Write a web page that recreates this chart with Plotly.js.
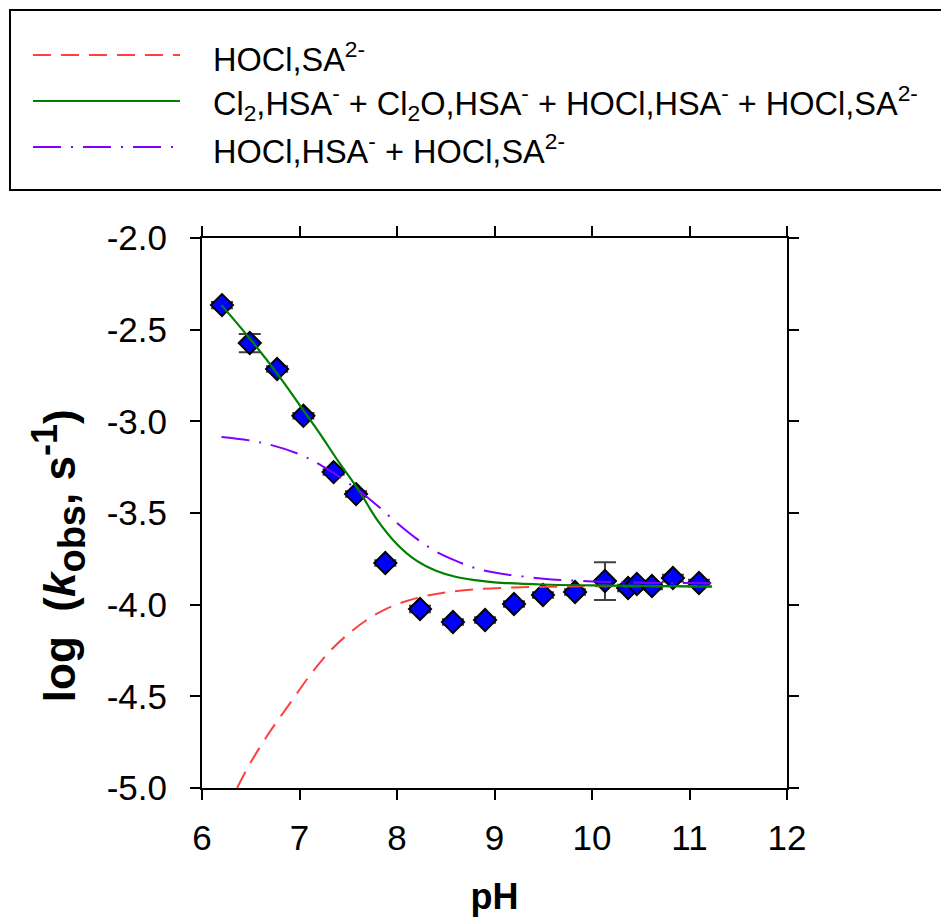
<!DOCTYPE html>
<html>
<head>
<meta charset="utf-8">
<script src="https://cdn.plot.ly/plotly-3.0.1.min.js"></script>
<style>body{margin:0;padding:0;background:#fff}#chart{width:941px;height:917px}</style>
</head>
<body>
<div id="chart"></div>
<script>
// Measured data points
var pH = [6.205, 6.49, 6.77, 7.04, 7.35, 7.58, 7.88, 8.236, 8.574, 8.903, 9.2, 9.497, 9.826, 10.133, 10.37, 10.46, 10.615, 10.83, 11.097];
var logK = [-2.366, -2.573, -2.715, -2.97, -3.277, -3.397, -3.773, -4.024, -4.095, -4.084, -3.996, -3.947, -3.931, -3.871, -3.909, -3.887, -3.898, -3.855, -3.882];
var logKErr = [0.017, 0.05, 0.015, 0.015, 0.015, 0.015, 0.015, 0.018, 0.015, 0.015, 0.015, 0.015, 0.015, 0.103, 0.018, 0.018, 0.018, 0.018, 0.018];

// Model curves
var redPH = [6.36, 6.5, 6.7, 6.9, 7.1, 7.3, 7.5, 7.7, 7.9, 8.1, 8.3, 8.5, 8.8, 9.2, 9.6, 10, 11.23];
var redLogK = [-5.0, -4.86, -4.69, -4.54, -4.39, -4.26, -4.16, -4.08, -4.02, -3.98, -3.952, -3.933, -3.916, -3.906, -3.902, -3.9, -3.9];

var greenPH = [6.2, 6.5, 6.8, 7.0, 7.2, 7.4, 7.6, 7.8, 8.0, 8.2, 8.4, 8.6, 8.8, 9.0, 9.5, 10, 10.5, 11.23];
var greenLogK = [-2.366, -2.555, -2.76, -2.91, -3.06, -3.22, -3.37, -3.54, -3.67, -3.76, -3.815, -3.848, -3.866, -3.878, -3.89, -3.895, -3.898, -3.902];

var purplePH = [6.2, 6.6, 7.0, 7.3, 7.6, 7.8, 8.0, 8.2, 8.4, 8.6, 8.8, 9.0, 9.5, 10, 10.5, 11.23];
var purpleLogK = [-3.085, -3.115, -3.18, -3.265, -3.375, -3.46, -3.555, -3.64, -3.71, -3.76, -3.80, -3.825, -3.858, -3.873, -3.88, -3.883];

var seriesNames = [
  'HOCl,SA<sup>2-</sup>',
  'Cl<sub>2</sub>,HSA<sup>-</sup> + Cl<sub>2</sub>O,HSA<sup>-</sup> + HOCl,HSA<sup>-</sup> + HOCl,SA<sup>2-</sup>',
  'HOCl,HSA<sup>-</sup> + HOCl,SA<sup>2-</sup>'
];
var xTickVals = [6, 7, 8, 9, 10, 11, 12];
var xTickText = ['6', '7', '8', '9', '10', '11', '12'];
var yTickVals = [-5.0, -4.5, -4.0, -3.5, -3.0, -2.5, -2.0];
var yTickText = ['-5.0', '-4.5', '-4.0', '-3.5', '-3.0', '-2.5', '-2.0'];

var FONT = 'Liberation Sans, Arial, sans-serif';
var colors = ['#ff4040', '#008000', '#8000ff'];
var dashes = ['18px,10px', 'solid', '28px,10px,2px,10px'];

var traces = [
  {x: pH, y: logK, type: 'scatter', mode: 'markers', showlegend: false,
   marker: {symbol: 'diamond', size: 17, color: '#0000ff', line: {color: '#000', width: 2}},
   error_y: {type: 'data', array: logKErr, visible: true, color: '#404040', thickness: 2, width: 11}},
  {x: redPH, y: redLogK, type: 'scatter', mode: 'lines', name: seriesNames[0], showlegend: false,
   line: {color: colors[0], width: 2, dash: dashes[0], shape: 'spline'}},
  {x: greenPH, y: greenLogK, type: 'scatter', mode: 'lines', name: seriesNames[1], showlegend: false,
   line: {color: colors[1], width: 2.2, dash: dashes[1], shape: 'spline'}},
  {x: purplePH, y: purpleLogK, type: 'scatter', mode: 'lines', name: seriesNames[2], showlegend: false,
   line: {color: colors[2], width: 2, dash: dashes[2], shape: 'spline'}}
];

// plot area in pixels
var L = 202, R = 787, T = 238, B = 788;
function px2x(p) { return (p - L) / (R - L); }
function px2y(p) { return (B - p) / (B - T); }

var shapes = [
  {type: 'rect', xref: 'paper', yref: 'paper', x0: px2x(10), x1: px2x(960), y0: px2y(190), y1: px2y(10),
   line: {color: '#000', width: 2}, fillcolor: 'rgba(0,0,0,0)'}
];
var annotations = [];
var rowY = [55, 101, 147];
for (var i = 0; i < 3; i++) {
  shapes.push({type: 'line', xref: 'paper', yref: 'paper', x0: px2x(33), x1: px2x(180), y0: px2y(rowY[i]), y1: px2y(rowY[i]),
    line: {color: colors[i], width: 2, dash: dashes[i]}});
  annotations.push({xref: 'paper', yref: 'paper', x: px2x(211), y: px2y(rowY[i] + 2), xanchor: 'left', yanchor: 'middle',
    text: seriesNames[i], showarrow: false, font: {family: FONT, size: 32.5, color: '#000'}});
}

var axisCommon = {
  showline: true, linecolor: '#000', linewidth: 2, mirror: 'ticks',
  ticks: 'outside', ticklen: 10, tickwidth: 2, tickcolor: '#000',
  showgrid: false, zeroline: false,
  tickfont: {family: FONT, size: 35, color: '#000'}
};

var yTitle = '<b>log&nbsp; (<i>k</i><sub><span style="font-size:38px">obs</span></sub>, s<sup><span style="font-size:36px">-1</span></sup>)' +
  '&nbsp;&nbsp;&nbsp;&nbsp;&nbsp;&nbsp;&nbsp;</b>';

var layout = {
  width: 941, height: 917,
  margin: {l: L, r: 941 - R, t: T, b: 917 - B, pad: 0},
  paper_bgcolor: '#fff', plot_bgcolor: '#fff',
  showlegend: false,
  xaxis: Object.assign({}, axisCommon, {
    range: [6, 12], tickmode: 'array', tickvals: xTickVals, ticktext: xTickText,
    ticklabelstandoff: 8,
    title: {text: '<b>pH</b>', font: {family: FONT, size: 36, color: '#000'}, standoff: 28}
  }),
  yaxis: Object.assign({}, axisCommon, {
    range: [-5, -2], tickmode: 'array', tickvals: yTickVals, ticktext: yTickText,
    ticklabelstandoff: 16,
    title: {text: yTitle, font: {family: FONT, size: 44, color: '#000'}, standoff: 17}
  }),
  shapes: shapes,
  annotations: annotations
};

Plotly.newPlot('chart', traces, layout, {displayModeBar: false, staticPlot: true});
</script>
</body>
</html>
